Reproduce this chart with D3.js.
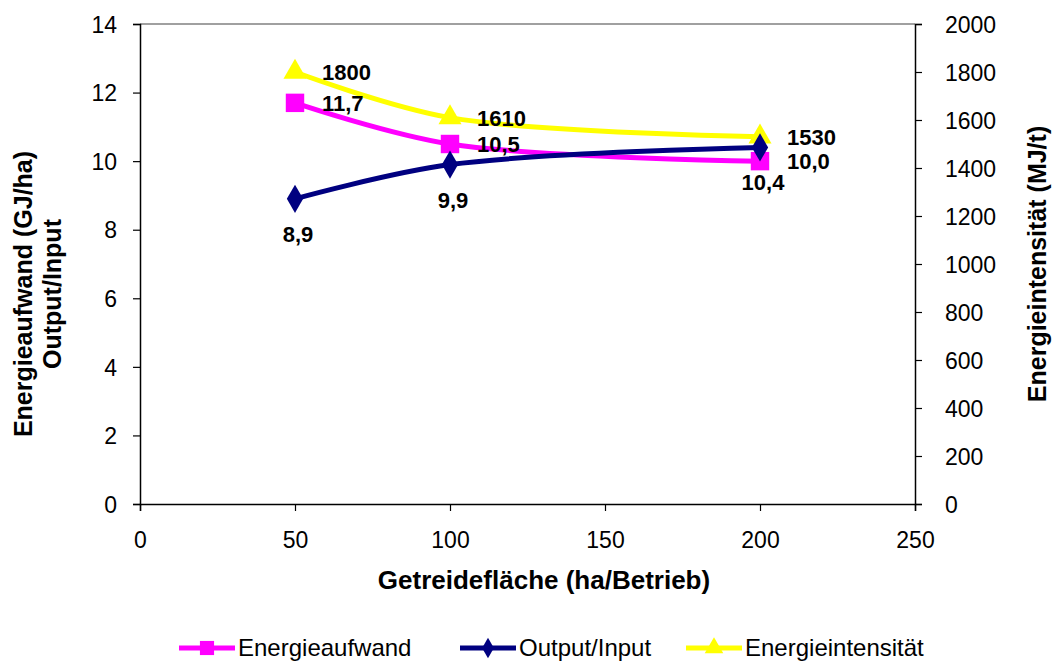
<!DOCTYPE html>
<html>
<head>
<meta charset="utf-8">
<script src="https://cdn.jsdelivr.net/npm/d3@7"></script>
<style>
  html, body { margin: 0; padding: 0; background: #fff; }
  svg { display: block; font-family: "Liberation Sans", Arial, sans-serif; }
</style>
</head>
<body>
<svg id="chart" width="1053" height="662"></svg>
<script>
// Getreidefläche je Betrieb (ha) und Kennzahlen
const flaeche = [50, 100, 200];
const energieaufwand = [11.7, 10.5, 10.0];      // GJ/ha
const outputInput = [8.9, 9.9, 10.4];           // Verhältnis
const energieintensitaet = [1800, 1610, 1530];  // MJ/t

const xTicks = [0, 50, 100, 150, 200, 250];
const yLeftTicks = [0, 2, 4, 6, 8, 10, 12, 14];
const yRightTicks = [0, 200, 400, 600, 800, 1000, 1200, 1400, 1600, 1800, 2000];

const seriesNames = ["Energieaufwand", "Output/Input", "Energieintensität"];

const svg = d3.select("#chart");
const plot = { left: 140, right: 915, top: 24, bottom: 504 };

const x = d3.scaleLinear().domain([0, 250]).range([plot.left, plot.right]);
const yL = d3.scaleLinear().domain([0, 14]).range([plot.bottom, plot.top]);
const yR = d3.scaleLinear().domain([0, 2000]).range([plot.bottom, plot.top]);

const deComma = d3.format(".1f");
const fmtDec = v => deComma(v).replace(".", ",");
const fmtInt = d3.format("d");

// plot frame: grey top edge
svg.append("line")
  .attr("x1", plot.left).attr("x2", plot.right)
  .attr("y1", plot.top).attr("y2", plot.top)
  .attr("stroke", "#808080").attr("stroke-width", 1.5);

// axes
const axisFont = "23px";
const gx = svg.append("g").attr("transform", `translate(0,${plot.bottom})`)
  .call(d3.axisBottom(x).tickValues(xTicks).tickSize(7).tickPadding(15).tickFormat(fmtInt));
const gl = svg.append("g").attr("transform", `translate(${plot.left},0)`)
  .call(d3.axisLeft(yL).tickValues(yLeftTicks).tickSize(7).tickPadding(16).tickFormat(fmtInt));
const gr = svg.append("g").attr("transform", `translate(${plot.right},0)`)
  .call(d3.axisRight(yR).tickValues(yRightTicks).tickSize(7).tickPadding(23).tickFormat(fmtInt));

[gx, gl, gr].forEach(g => {
  g.select(".domain").attr("stroke", "#000").attr("stroke-width", 1.5);
  g.selectAll(".tick line").attr("stroke", "#000").attr("stroke-width", 1.2);
  g.selectAll(".tick text")
    .attr("fill", "#000")
    .style("font-size", axisFont)
    .style("font-family", "'Liberation Sans', Arial, sans-serif");
});
gx.selectAll(".tick text").attr("dy", "0.95em");
gl.selectAll(".tick text").attr("dy", "0.36em");
gr.selectAll(".tick text").attr("dy", "0.36em");

// axis titles
svg.append("text")
  .attr("x", 544).attr("y", 589)
  .attr("text-anchor", "middle")
  .style("font-size", "26px").style("font-weight", "bold")
  .text("Getreidefläche (ha/Betrieb)");

const leftTitle = svg.append("text")
  .attr("transform", `translate(0,294) rotate(-90)`)
  .attr("text-anchor", "middle")
  .style("font-size", "25px").style("font-weight", "bold");
leftTitle.append("tspan").attr("x", 0).attr("y", 32).text("Energieaufwand (GJ/ha)");
leftTitle.append("tspan").attr("x", 0).attr("y", 61).text("Output/Input");

svg.append("text")
  .attr("transform", `translate(1046,264) rotate(-90)`)
  .attr("text-anchor", "middle")
  .style("font-size", "25px").style("font-weight", "bold")
  .text("Energieintensität  (MJ/t)");

// series definitions
const series = [
  { name: seriesNames[0], values: energieaufwand, y: yL, color: "#FF00FF", marker: "square", fmt: fmtDec, label: "right" },
  { name: seriesNames[2], values: energieintensitaet, y: yR, color: "#FFFF00", marker: "triangle", fmt: fmtInt, label: "right" },
  { name: seriesNames[1], values: outputInput, y: yL, color: "#000080", marker: "diamond", fmt: fmtDec, label: "below" }
];

const symbolOf = {
  square: d3.symbol().type(d3.symbolSquare).size(340),
  triangle: d3.symbol().type(d3.symbolTriangle).size(230),
  diamond: d3.symbol().type(d3.symbolDiamond).size(230)
};

const line = d3.line().curve(d3.curveCatmullRom.alpha(0.5));

series.forEach(s => {
  const pts = flaeche.map((f, i) => [x(f), s.y(s.values[i])]);
  svg.append("path")
    .attr("d", line(pts))
    .attr("fill", "none")
    .attr("stroke", s.color)
    .attr("stroke-width", 5)
    .attr("stroke-linejoin", "round");
  svg.selectAll(null).data(pts).enter().append("path")
    .attr("transform", d => `translate(${d[0]},${d[1]})`)
    .attr("d", symbolOf[s.marker])
    .attr("fill", s.color);
});

// data labels
series.forEach(s => {
  flaeche.forEach((f, i) => {
    const px = x(f), py = s.y(s.values[i]);
    const t = svg.append("text")
      .style("font-size", "22px").style("font-weight", "bold")
      .attr("fill", "#000")
      .text(s.fmt(s.values[i]));
    if (s.label === "right") {
      t.attr("x", px + 27).attr("y", py + 8);
    } else {
      t.attr("x", px + 3).attr("y", py + 43).attr("text-anchor", "middle");
    }
  });
});

// legend
const legendItems = [
  { name: seriesNames[0], color: "#FF00FF", marker: "square", x0: 179 },
  { name: seriesNames[1], color: "#000080", marker: "diamond", x0: 460 },
  { name: seriesNames[2], color: "#FFFF00", marker: "triangle", x0: 686 }
];
const legendSymbol = {
  square: d3.symbol().type(d3.symbolSquare).size(200),
  triangle: d3.symbol().type(d3.symbolTriangle).size(150),
  diamond: d3.symbol().type(d3.symbolDiamond).size(120)
};
const ly = 648;
legendItems.forEach(it => {
  const g = svg.append("g");
  g.append("line")
    .attr("x1", it.x0).attr("x2", it.x0 + 56)
    .attr("y1", ly).attr("y2", ly)
    .attr("stroke", it.color).attr("stroke-width", 5);
  g.append("path")
    .attr("transform", `translate(${it.x0 + 28},${ly})`)
    .attr("d", legendSymbol[it.marker])
    .attr("fill", it.color);
  g.append("text")
    .attr("x", it.x0 + 59).attr("y", ly + 8)
    .style("font-size", "24px")
    .attr("fill", "#000")
    .text(it.name);
});
</script>
</body>
</html>
